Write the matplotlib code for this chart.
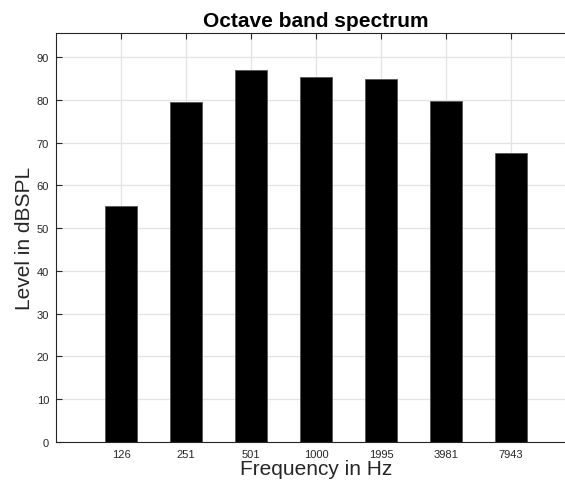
import matplotlib
matplotlib.use("Agg")
import matplotlib.pyplot as plt

# octave band levels
freqs = ["126", "251", "501", "1000", "1995", "3981", "7943"]
levels = [55.1, 79.5, 86.9, 85.4, 85.0, 79.8, 67.6]

plt.rcParams["font.family"] = ["Liberation Sans", "DejaVu Sans"]

fig = plt.figure(figsize=(5.65, 4.85), dpi=100)
# axes run past the right edge of the figure, as in the cropped original
ax = fig.add_axes([0.0991, 0.0872, 0.9204, 0.8421])

pos = list(range(1, len(freqs) + 1))
ax.bar(pos, levels, width=0.5, color="black", edgecolor="#555555", linewidth=0.6, zorder=3)

ax.set_xlim(0, 8)
ax.set_ylim(0, max(levels) * 1.1)
ax.set_xticks(pos)
ax.set_xticklabels(freqs)
ax.set_yticks(range(0, 100, 10))

ax.grid(True, color="#e3e3e3", linewidth=0.9, zorder=0)
ax.set_axisbelow(True)
ax.tick_params(direction="in", length=4, width=0.8, colors="#262626",
               labelsize=8, top=True, right=False, pad=5)
for s in ax.spines.values():
    s.set_color("#262626")
    s.set_linewidth(0.8)
ax.spines["right"].set_visible(False)

ax.set_title("Octave band spectrum", fontsize=15, fontweight="bold", pad=5)
ax.set_xlabel("Frequency in Hz", fontsize=15, color="#262626", labelpad=0)
ax.set_ylabel("Level in dBSPL", fontsize=15, color="#262626", labelpad=2)

fig.savefig("out.png", dpi=100)
